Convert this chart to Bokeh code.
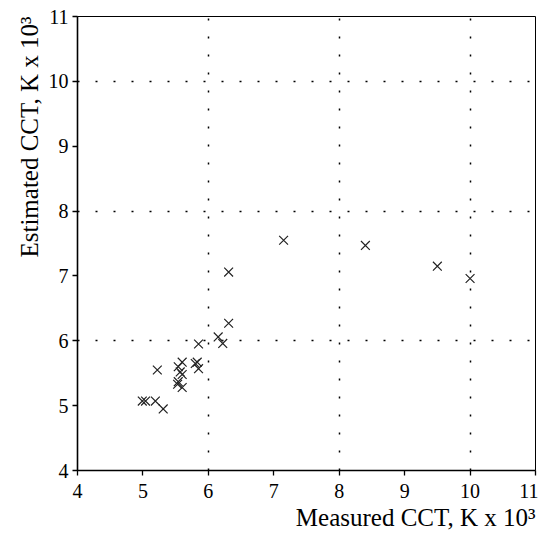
from bokeh.plotting import figure
from bokeh.models import FixedTicker, Title, Range1d
from bokeh.embed import file_html
from bokeh.resources import INLINE

measured = [4.99, 5.04, 5.19, 5.31, 5.22, 5.60, 5.54, 5.57, 5.60, 5.54, 5.53, 5.60,
            5.83, 5.80, 5.85, 5.85, 6.15, 6.22, 6.31, 6.31, 7.15, 8.40, 9.50, 10.00]
estimated = [5.07, 5.07, 5.07, 4.95, 5.55, 5.67, 5.60, 5.52, 5.48, 5.37, 5.33, 5.28,
             5.67, 5.65, 5.57, 5.95, 6.06, 5.96, 6.27, 7.06, 7.55, 7.47, 7.15, 6.96]
axis_ticks = [4, 5, 6, 7, 8, 9, 10, 11]
grid_ticks = [6, 8, 10]

FONT = "Liberation Serif"

p = figure(width=538, height=531, output_backend="svg", toolbar_location=None,
           x_range=Range1d(4, 11), y_range=Range1d(4, 11),
           min_border_left=77, min_border_right=3, min_border_top=16, min_border_bottom=58)

p.scatter(measured, estimated, marker="x", size=12.5, line_color="#222222", line_width=1.2)

for ax in (p.xaxis[0], p.yaxis[0]):
    ax.ticker = FixedTicker(ticks=axis_ticks)
    ax.major_label_text_font = FONT
    ax.major_label_text_font_size = "20px"
    ax.major_label_text_color = "black"
    ax.major_tick_out = 5
    ax.major_tick_in = 0
    ax.minor_tick_out = 0
    ax.minor_tick_in = 0
    ax.axis_line_width = 1.6
    ax.axis_line_color = "black"
    ax.major_tick_line_color = "black"
    ax.major_tick_line_width = 1.3

p.xaxis.major_label_standoff = 8
p.yaxis.major_label_standoff = 4

for g in (p.xgrid[0], p.ygrid[0]):
    g.ticker = FixedTicker(ticks=grid_ticks)
    g.grid_line_color = "black"
    g.grid_line_width = 1.5
    g.grid_line_dash = "2 16"

p.outline_line_color = "black"
p.outline_line_width = 1
p.background_fill_color = "white"
p.border_fill_color = "white"

xt = Title(text="Measured CCT, K x 10³", align="right", text_font=FONT,
           text_font_size="25px", text_font_style="normal", text_color="black",
           offset=0, standoff=2)
p.add_layout(xt, "below")
yt = Title(text="Estimated CCT, K x 10³", align="right", text_font=FONT,
           text_font_size="25px", text_font_style="normal", text_color="black",
           standoff=5)
p.add_layout(yt, "left")

open("out.html", "w").write(file_html(p, INLINE))
